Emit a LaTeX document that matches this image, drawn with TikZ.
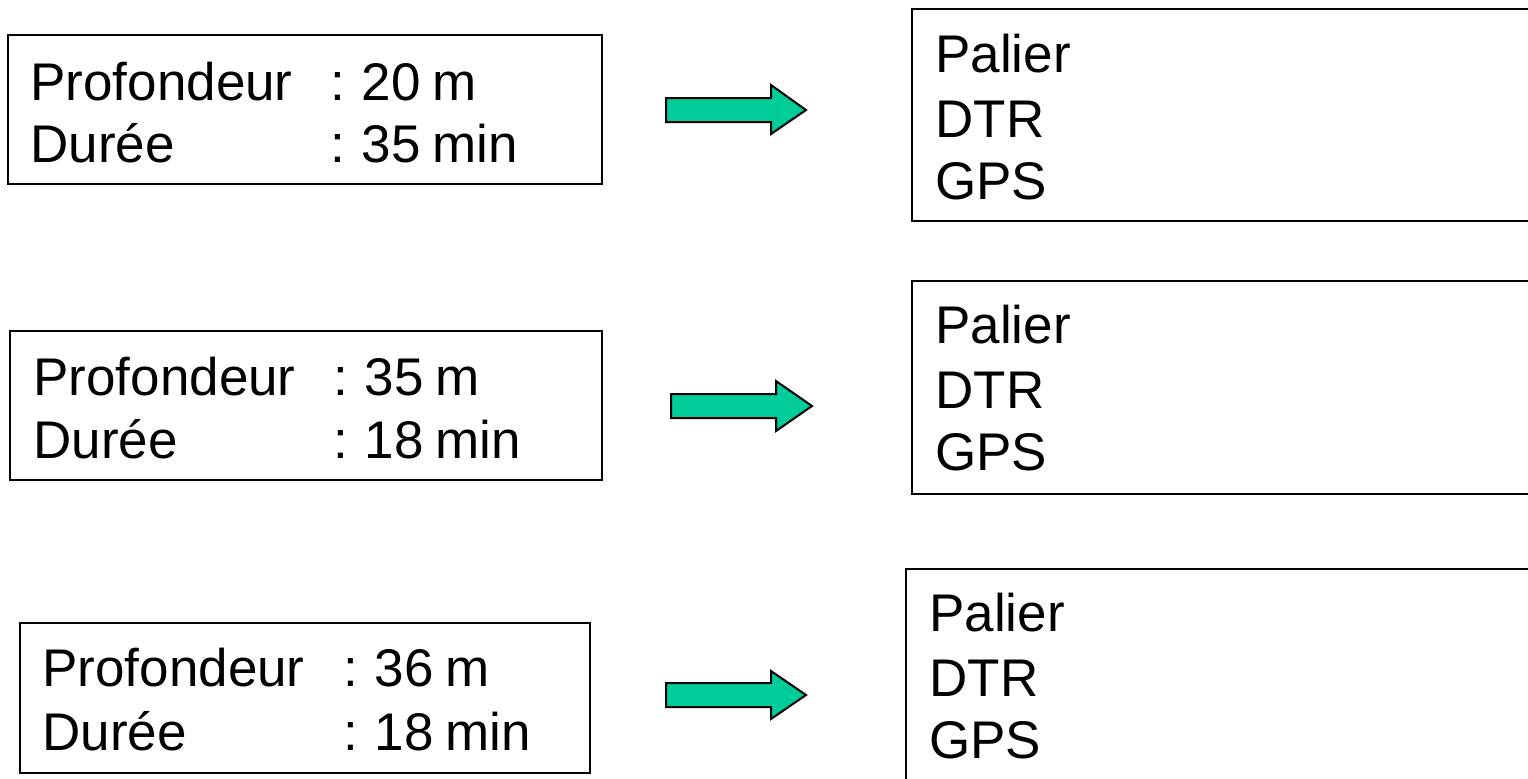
\documentclass[tikz,border=0pt]{standalone}
\usepackage{fontspec}
\setmainfont[WordSpace=0.8]{Liberation Sans}
\definecolor{arrowgreen}{RGB}{0,204,153}
\begin{document}
\begin{tikzpicture}[x=0.5pt,y=-0.5pt,
  box/.style={draw=black,line width=1pt,fill=white},
  txt/.style={anchor=base west,inner sep=0pt,font=\fontsize{26.5}{31}\selectfont},
  blockarrow/.style={draw=black,line width=1pt,fill=arrowgreen,line join=miter}]
\useasboundingbox (0,0) rectangle (1528,778);
\clip (0,0) rectangle (1528,778);
\fill[white] (0,0) rectangle (1528,778);
% left boxes
\draw[box] (8,35) rectangle (602,184);
\draw[box] (10,331) rectangle (602,480);
\draw[box] (20,623) rectangle (590,773);
% right boxes
\draw[box] (912,9) rectangle (1540,221);
\draw[box] (912,281) rectangle (1540,494);
\draw[box] (906,569) rectangle (1540,790);
% left texts
\node[txt] (p1) at (30,100) {Profondeur};
\node[txt] (p1v) at (330,100) {: 20 m};
\node[txt] (d1) at (30,162) {Durée};
\node[txt] (d1v) at (330,162) {: 35 min};
\node[txt] (p2) at (33,395) {Profondeur};
\node[txt] (p2v) at (333,395) {: 35 m};
\node[txt] (d2) at (33,458) {Durée};
\node[txt] (d2v) at (333,458) {: 18 min};
\node[txt] (p3) at (42,686) {Profondeur};
\node[txt] (p3v) at (343,686) {: 36 m};
\node[txt] (d3) at (42,750) {Durée};
\node[txt] (d3v) at (343,750) {: 18 min};
% right texts
\node[txt] (r1a) at (935,72) {Palier};
\node[txt] (r1b) at (935,137) {DTR};
\node[txt] (r1c) at (935,199) {GPS};
\node[txt] (r2a) at (935,343) {Palier};
\node[txt] (r2b) at (935,408) {DTR};
\node[txt] (r2c) at (935,470) {GPS};
\node[txt] (r3a) at (929,631) {Palier};
\node[txt] (r3b) at (929,696) {DTR};
\node[txt] (r3c) at (929,758) {GPS};
% block arrows
\draw[blockarrow] (666,98) -- (771,98) -- (771,85) -- (806,110) -- (771,134) -- (771,122) -- (666,122) -- cycle;
\draw[blockarrow] (671,394) -- (776,394) -- (776,381) -- (812,406) -- (776,431) -- (776,418) -- (671,418) -- cycle;
\draw[blockarrow] (666,683) -- (771,683) -- (771,671) -- (806,695) -- (771,719) -- (771,707) -- (666,707) -- cycle;
\end{tikzpicture}
\end{document}
